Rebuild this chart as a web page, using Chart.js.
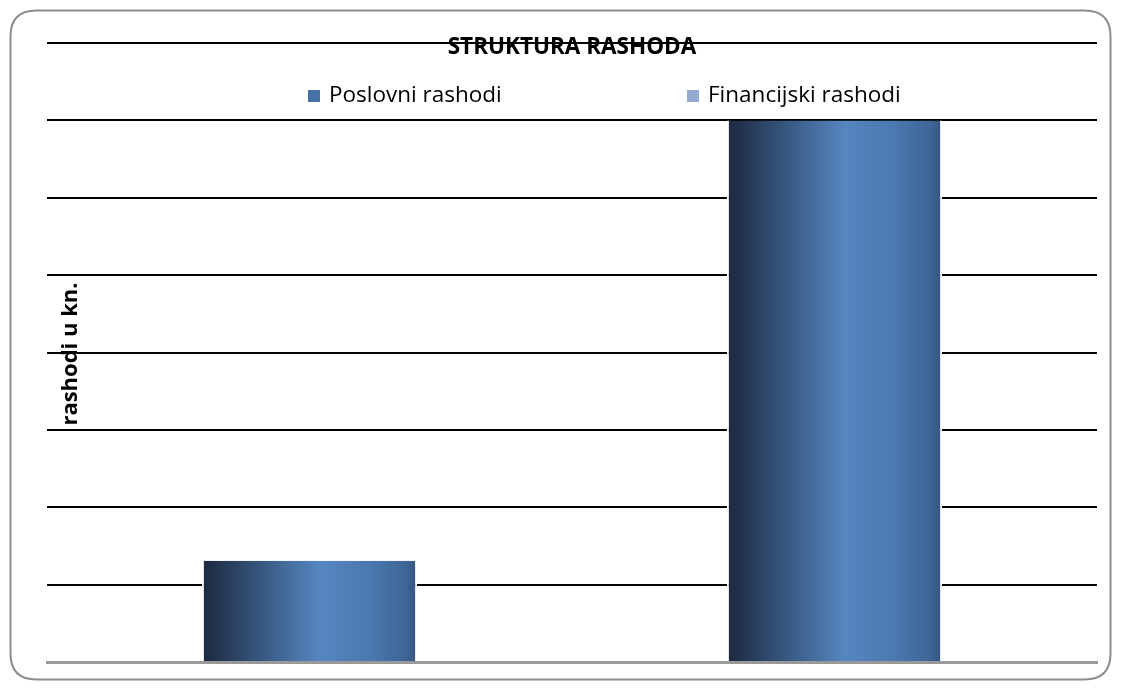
<!DOCTYPE html>
<html>
<head>
<meta charset="utf-8">
<style>
html,body{margin:0;padding:0;background:#fff;}
#wrap{width:1121px;height:690px;position:relative;}
</style>
<script src="https://cdn.jsdelivr.net/npm/chart.js@4.4.0/dist/chart.umd.min.js"></script>
</head>
<body>
<div id="wrap"><canvas id="c" width="1121" height="690"></canvas></div>
<script>
const chartTitle = "STRUKTURA RASHODA";
const yAxisTitle = "rashodi u kn.";
const categories = ["Poslovni rashodi", "Financijski rashodi"];
const values = [1.31, 7.0];
const legendColors = ["#4672a8", "#95a8d0"];
const yMax = 8;
const yStep = 1;

const FONT = "'Open Sans', 'DejaVu Sans', sans-serif";

function barGradient(ctx) {
  const chart = ctx.chart;
  if (!chart.chartArea) return "#4a78b0";
  const meta = chart.getDatasetMeta(ctx.datasetIndex);
  const el = meta.data[ctx.dataIndex];
  let x0, x1;
  if (el && el.width) { x0 = el.x - el.width / 2; x1 = el.x + el.width / 2; }
  else {
    const xs = chart.scales.x;
    const cx = xs.getPixelForValue(ctx.dataIndex);
    const w = (xs.width / categories.length) * 0.41;
    x0 = cx - w / 2; x1 = cx + w / 2;
  }
  const g = chart.ctx.createLinearGradient(x0, 0, x1, 0);
  g.addColorStop(0.0, "#1c2940");
  g.addColorStop(0.06, "#22324c");
  g.addColorStop(0.30, "#3a5c86");
  g.addColorStop(0.55, "#5686c0");
  g.addColorStop(0.78, "#4a78b0");
  g.addColorStop(0.95, "#3e6596");
  g.addColorStop(1.0, "#34537a");
  return g;
}

const decor = {
  id: "decor",
  beforeDraw(chart) {
    const c = chart.ctx;
    c.save();
    c.fillStyle = "#fff";
    c.fillRect(0, 0, chart.width, chart.height);
    const x = 10.5, y = 10.5, w = 1100, h = 669, r = 26;
    c.beginPath();
    c.moveTo(x + r, y);
    c.lineTo(x + w - r, y);
    c.quadraticCurveTo(x + w, y, x + w, y + r);
    c.lineTo(x + w, y + h - r);
    c.quadraticCurveTo(x + w, y + h, x + w - r, y + h);
    c.lineTo(x + r, y + h);
    c.quadraticCurveTo(x, y + h, x, y + h - r);
    c.lineTo(x, y + r);
    c.quadraticCurveTo(x, y, x + r, y);
    c.closePath();
    c.strokeStyle = "#8c8c8c";
    c.lineWidth = 2;
    c.stroke();
    c.restore();
  },
  afterDraw(chart) {
    const c = chart.ctx;
    const area = chart.chartArea;
    const cx = (area.left + area.right) / 2;
    c.save();
    // title
    c.fillStyle = "#000";
    c.font = "bold 22.5px " + FONT;
    c.textAlign = "center";
    c.textBaseline = "middle";
    c.fillText(chartTitle, cx, 48);
    // legend
    c.font = "22.5px " + FONT;
    c.textAlign = "left";
    const legendX = [308, 687];
    categories.forEach((lab, i) => {
      c.fillStyle = legendColors[i];
      c.fillRect(legendX[i], 90, 12, 12);
      c.fillStyle = "#000";
      c.fillText(lab, legendX[i] + 21, 96);
    });
    // y axis title
    c.translate(71, 354);
    c.rotate(-Math.PI / 2);
    c.font = "bold 22px " + FONT;
    c.textAlign = "center";
    c.fillText(yAxisTitle, 0, 0);
    c.restore();
  }
};

new Chart(document.getElementById("c"), {
  type: "bar",
  data: {
    labels: categories,
    datasets: [{
      label: "rashodi",
      data: values,
      backgroundColor: barGradient,
      borderColor: "#ffffff",
      borderWidth: { left: 2, right: 2, top: 0, bottom: 0 },
      borderSkipped: false,
      barPercentage: 0.41,
      categoryPercentage: 1.0
    }]
  },
  options: {
    responsive: false,
    animation: false,
    devicePixelRatio: 1,
    layout: { padding: { left: 47, right: 24, top: 43, bottom: 28 } },
    plugins: {
      legend: { display: false },
      title: { display: false },
      tooltip: { enabled: false }
    },
    scales: {
      x: {
        grid: { display: false, drawTicks: false },
        ticks: { display: false },
        border: { display: true, color: "#999999", width: 3 }
      },
      y: {
        min: 0, max: yMax,
        ticks: { display: false, stepSize: yStep },
        grid: {
          drawTicks: false,
          color: (ctx) => ctx.index === 0 ? "rgba(0,0,0,0)" : "#000000",
          lineWidth: 2
        },
        border: { display: false }
      }
    }
  },
  plugins: [decor]
});
</script>
</body>
</html>
